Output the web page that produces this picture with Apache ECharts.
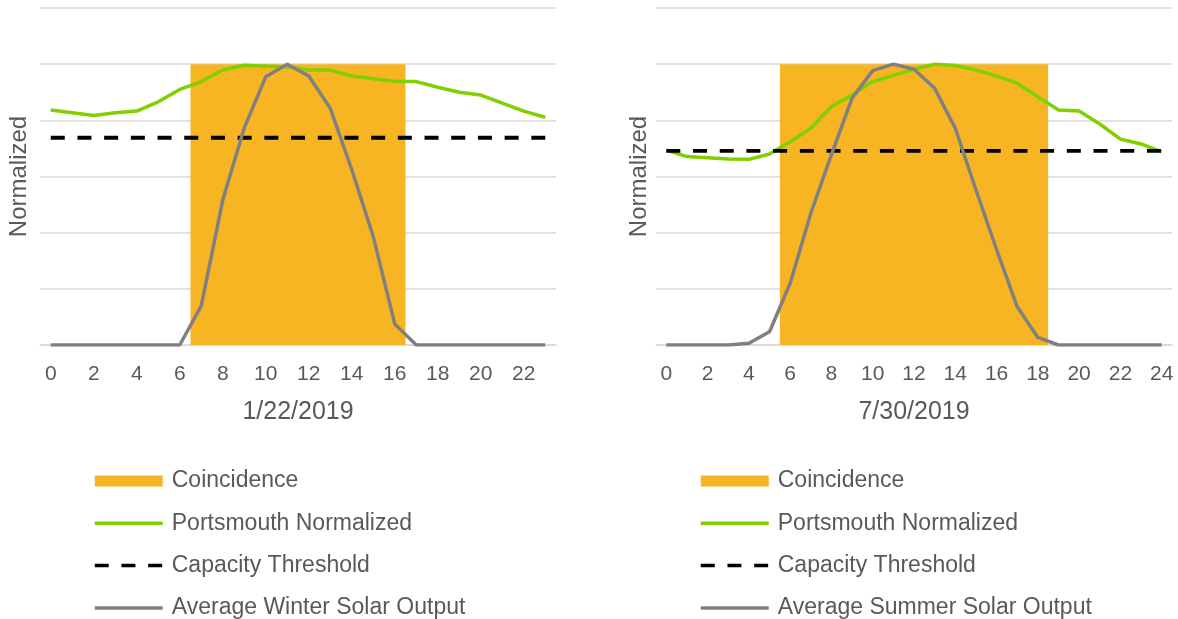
<!DOCTYPE html>
<html>
<head>
<meta charset="utf-8">
<script src="https://cdn.jsdelivr.net/npm/echarts@6/dist/echarts.min.js"></script>
<style>
  html, body { margin: 0; padding: 0; background: #ffffff; }
  #chart { width: 1178px; height: 619px; }
</style>
</head>
<body>
<div id="chart"></div>
<script>
// Hour-of-day categories for each day
const winterHours = ['0','1','2','3','4','5','6','7','8','9','10','11','12','13','14','15','16','17','18','19','20','21','22','23'];
const summerHours = ['0','1','2','3','4','5','6','7','8','9','10','11','12','13','14','15','16','17','18','19','20','21','22','23','24'];

// 1/22/2019
const winterCoincidence = [0,0,0,0,0,0,0,1,1,1,1,1,1,1,1,1,1,0,0,0,0,0,0,0];
const winterLoad = [0.837,0.827,0.817,0.827,0.833,0.866,0.910,0.938,0.979,0.996,0.993,0.990,0.979,0.979,0.958,0.948,0.939,0.938,0.918,0.900,0.890,0.861,0.833,0.811];
const winterThreshold = [0.738,0.738,0.738,0.738,0.738,0.738,0.738,0.738,0.738,0.738,0.738,0.738,0.738,0.738,0.738,0.738,0.738,0.738,0.738,0.738,0.738,0.738,0.738,0.738];
const winterSolar = [0,0,0,0,0,0,0,0.139,0.516,0.773,0.955,1.0,0.958,0.843,0.625,0.386,0.075,0,0,0,0,0,0,0];

// 7/30/2019
const summerCoincidence = [0,0,0,0,0,0,1,1,1,1,1,1,1,1,1,1,1,1,1,0,0,0,0,0,0];
const summerLoad = [0.694,0.671,0.667,0.662,0.661,0.680,0.724,0.772,0.849,0.890,0.938,0.960,0.982,1.0,0.995,0.979,0.958,0.932,0.884,0.837,0.833,0.787,0.733,0.716,0.688];
const summerThreshold = [0.691,0.691,0.691,0.691,0.691,0.691,0.691,0.691,0.691,0.691,0.691,0.691,0.691,0.691,0.691,0.691,0.691,0.691,0.691,0.691,0.691,0.691,0.691,0.691,0.691];
const summerSolar = [0,0,0,0,0.006,0.047,0.220,0.469,0.678,0.879,0.977,1.0,0.982,0.914,0.772,0.553,0.340,0.136,0.027,0,0,0,0,0,0];

const dayTitles = ['1/22/2019', '7/30/2019'];
const yTitle = 'Normalized';

const FONT = '"Liberation Sans", Arial, sans-serif';
const TEXT = '#595959';
const GRID_LINE = '#D9D9D9';
const ORANGE = '#F8B523';
const GREEN = '#80D000';
const GRAY = '#808080';

function xAxisFor(idx, cats, title) {
  return {
    type: 'category', gridIndex: idx, data: cats, boundaryGap: true,
    axisLine: { show: true, lineStyle: { color: GRID_LINE, width: 1.5 } },
    axisTick: { show: false },
    axisLabel: { interval: 1, color: TEXT, fontFamily: FONT, fontSize: 21, margin: 19 },
    name: title, nameLocation: 'middle', nameGap: 55,
    nameTextStyle: { color: TEXT, fontFamily: FONT, fontSize: 25 }
  };
}

function yAxisFor(idx, gap) {
  return {
    type: 'value', gridIndex: idx, min: 0, max: 1.2, interval: 0.2,
    axisLine: { show: false }, axisTick: { show: false }, axisLabel: { show: false },
    splitLine: { show: true, lineStyle: { color: GRID_LINE, width: 1.5 } },
    name: yTitle, nameLocation: 'middle', nameGap: gap,
    nameTextStyle: { color: TEXT, fontFamily: FONT, fontSize: 24 }
  };
}

function seriesFor(idx, coincidence, load, threshold, solar, solarName) {
  return [
    // coincidence window: a stepped area whose edges fall half-way between hours
    { name: 'Coincidence', type: 'line', xAxisIndex: idx, yAxisIndex: idx, data: coincidence,
      step: 'middle', symbol: 'none', silent: true,
      lineStyle: { width: 0, color: ORANGE }, itemStyle: { color: ORANGE },
      areaStyle: { color: ORANGE, opacity: 1 } },
    { name: 'Portsmouth Normalized', type: 'line', xAxisIndex: idx, yAxisIndex: idx, data: load,
      symbol: 'none', lineStyle: { color: GREEN, width: 3.5 }, itemStyle: { color: GREEN } },
    { name: 'Capacity Threshold', type: 'line', xAxisIndex: idx, yAxisIndex: idx, data: threshold,
      symbol: 'none', lineStyle: { color: '#000000', width: 3.8, type: [14, 12.7] }, itemStyle: { color: '#000000' } },
    { name: solarName, type: 'line', xAxisIndex: idx, yAxisIndex: idx, data: solar,
      symbol: 'none', lineStyle: { color: GRAY, width: 3.5 }, itemStyle: { color: GRAY } }
  ];
}

// line entries show only their stroke in the legend, no marker
const noMarker = { color: 'transparent', borderWidth: 0 };

function legendFor(left, solarName) {
  return {
    orient: 'vertical', left: left, top: 469, height: 160, padding: 0,
    itemWidth: 68, itemHeight: 11, itemGap: 18.3,
    selectedMode: false,
    lineStyle: { width: 3.5 },
    textStyle: { color: TEXT, fontFamily: FONT, fontSize: 23, lineHeight: 24, padding: [0, 0, 0, 4] },
    data: [
      { name: 'Coincidence', icon: 'rect', itemStyle: { color: ORANGE, borderWidth: 0 } },
      { name: 'Portsmouth Normalized', itemStyle: noMarker },
      { name: 'Capacity Threshold', itemStyle: noMarker },
      { name: solarName, itemStyle: noMarker }
    ]
  };
}

const chart = echarts.init(document.getElementById('chart'), null, { renderer: 'canvas' });
chart.setOption({
  animation: false,
  backgroundColor: '#ffffff',
  grid: [
    { left: 40, right: 622, top: 8, bottom: 274 },
    { left: 656, right: 6, top: 8, bottom: 274 }
  ],
  xAxis: [xAxisFor(0, winterHours, dayTitles[0]), xAxisFor(1, summerHours, dayTitles[1])],
  yAxis: [yAxisFor(0, 9), yAxisFor(1, 5)],
  legend: [legendFor(93, 'Average Winter Solar Output'), legendFor(699, 'Average Summer Solar Output')],
  series: [].concat(
    seriesFor(0, winterCoincidence, winterLoad, winterThreshold, winterSolar, 'Average Winter Solar Output'),
    seriesFor(1, summerCoincidence, summerLoad, summerThreshold, summerSolar, 'Average Summer Solar Output')
  )
});
</script>
</body>
</html>
